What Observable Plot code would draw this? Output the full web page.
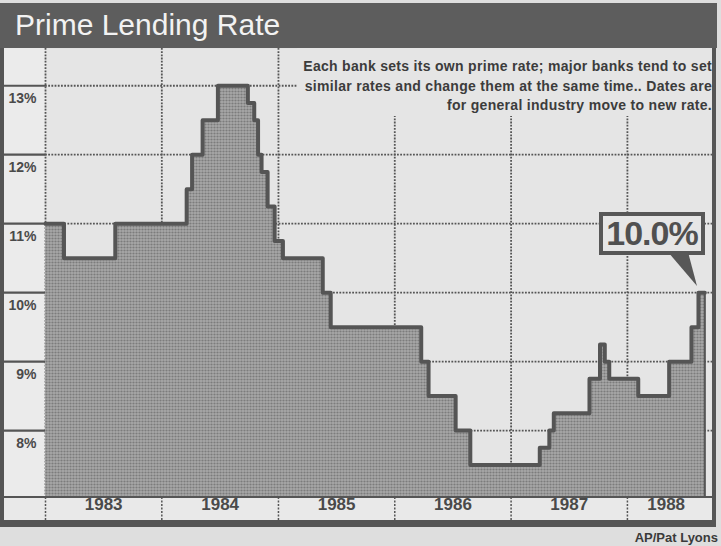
<!DOCTYPE html>
<html>
<head>
<meta charset="utf-8">
<script src="https://cdn.jsdelivr.net/npm/d3@7"></script>
<script src="https://cdn.jsdelivr.net/npm/@observablehq/plot@0.6"></script>
<style>
  html, body { margin: 0; padding: 0; background: #dedede; }
  #wrap { position: relative; width: 721px; height: 546px; overflow: hidden; background: #dedede; font-family: "Liberation Sans", Arial, sans-serif; }
  .abs { position: absolute; }
  #chart { position: absolute; left: 0; top: 0; }
  #title { left: 0; top: 3px; width: 717px; height: 45px; background: #5d5d5d; color: #f2f2f2; font-size: 30px; line-height: 44px; padding-left: 15px; box-sizing: border-box; }
  #note { right: 9px; top: 48px; padding: 9px 0 0 6px; background: #e5e5e5; color: #3c3c3c; font-weight: bold; font-size: 14px; letter-spacing: 0.3px; line-height: 19.5px; text-align: right; white-space: pre; }
  #callout { left: 599px; top: 212px; width: 106px; height: 43px; box-sizing: border-box; border: 4px solid #575757; background: #e6e6e6; color: #505050; font-weight: bold; font-size: 34px; letter-spacing: -1px; line-height: 35px; text-align: center; }
  #credit { right: 3px; top: 530px; color: #3a3a3a; font-weight: bold; font-size: 13px; }
</style>
</head>
<body>
<div id="wrap">
  <svg class="abs" style="left:0;top:0" width="0" height="0">
    <defs>
      <pattern id="halftone" width="3" height="3" patternUnits="userSpaceOnUse">
        <rect width="3" height="3" fill="#a8a8a8"/>
        <circle cx="1.5" cy="1.5" r="1.1" fill="#7c7c7c"/>
      </pattern>
    </defs>
  </svg>
  <div class="abs" style="left:0;top:48px;width:45px;height:449px;background:#ebebeb"></div>
  <div class="abs" style="left:0;top:497px;width:716px;height:23px;background:#e9e9e9"></div>
  <div id="chart"></div>
  <div class="abs" style="left:0;top:48px;width:4px;height:479px;background:#555"></div>
  <div class="abs" style="left:712px;top:48px;width:4px;height:479px;background:#555"></div>
  <div class="abs" style="left:0;top:496px;width:716px;height:2px;background:#555"></div>
  <div class="abs" style="left:0;top:520px;width:716px;height:7px;background:#555"></div>
  <div id="title" class="abs">Prime Lending Rate</div>
  <div id="note" class="abs"></div>
  <div id="callout" class="abs"></div>
  <svg class="abs" style="left:0;top:0" width="721" height="546"><polygon points="668,252 688,252 697,286" fill="#575757"/></svg>
  <div id="credit" class="abs">AP/Pat Lyons</div>
</div>
<script>
// Dates of general industry moves and the new prime rate (%)
const dates = ["1983-01-01","1983-02-28","1983-08-08","1984-03-19","1984-04-05","1984-05-08","1984-06-25","1984-09-27","1984-10-17","1984-10-29","1984-11-09","1984-11-28","1984-12-20","1985-01-15","1985-05-20","1985-06-14","1986-03-25","1986-04-17","1986-07-11","1986-08-26","1987-04-01","1987-05-01","1987-05-15","1987-09-04","1987-10-07","1987-10-22","1987-11-05","1988-02-04","1988-05-11","1988-07-20","1988-08-11","1988-08-31"];
const rates = [11,10.5,11,11.5,12,12.5,13,12.75,12.5,12,11.75,11.25,10.75,10.5,10,9.5,9,8.5,8,7.5,7.75,8,8.25,8.75,9.25,9,8.75,8.5,9,9.5,10,10];
const yTicks = [8,9,10,11,12,13];
const yearLabels = ["1983","1984","1985","1986","1987","1988"];
const noteText = "Each bank sets its own prime rate; major banks tend to set\nsimilar rates and change them at the same time.. Dates are\nfor general industry move to new rate.";

const data = dates.map((d, i) => ({date: new Date(d + "T00:00:00Z"), rate: rates[i]}));
const last = data[data.length - 1];
const yMin = 7.03, yMax = 13.54;
const xStart = new Date("1983-01-01T00:00:00Z");
const xEnd = new Date("1988-09-24T00:00:00Z");
const yearStarts = yearLabels.map(y => new Date(y + "-01-01T00:00:00Z"));
const labelPos = yearStarts.map((s, i) => {
  const e = i < yearStarts.length - 1 ? yearStarts[i + 1] : last.date;
  return {label: yearLabels[i], date: new Date((+s + +e) / 2)};
});

const dot = {stroke: "#555", strokeWidth: 1.8, strokeDasharray: "1.8,1.4"};
const chart = Plot.plot({
  width: 721, height: 546,
  marginLeft: 45, marginRight: 9, marginTop: 48, marginBottom: 49,
  x: {type: "utc", domain: [xStart, xEnd]},
  y: {domain: [yMin, yMax]},
  style: {background: "transparent", fontFamily: "Liberation Sans, Arial, sans-serif", overflow: "visible"},
  marks: [
    Plot.frame({fill: "#e5e5e5", stroke: null}),
    Plot.ruleY(yTicks, dot),
    Plot.ruleX(yearStarts, dot),
    Plot.areaY(data, {x: "date", y1: yMin, y2: "rate", curve: "step-after", fill: "url(#halftone)"}),
    Plot.line(data, {x: "date", y: "rate", curve: "step-after", stroke: "#555", strokeWidth: 4}),
    Plot.ruleX([last], {x: "date", y1: yMin, y2: "rate", stroke: "#555", strokeWidth: 2}),
    Plot.axisY(yTicks, {anchor: "left", tickSize: 42, tickFormat: () => "", stroke: "#555", strokeWidth: 2.2, label: null}),
    Plot.axisY(yTicks, {anchor: "left", tickSize: 0, tickPadding: 9, dy: 13, tickFormat: d => d + "%", fontSize: 14, fontWeight: "bold", fill: "#4a4a4a", label: null}),
    Plot.axisX(yearStarts, {anchor: "bottom", tickSize: 23, tickFormat: () => "", stroke: "#555", strokeWidth: 1.5, strokeDasharray: "2,1.5", label: null}),
    Plot.text(labelPos, {x: "date", text: "label", frameAnchor: "bottom", dy: 12, fontSize: 17, fontWeight: "bold", fill: "#4a4a4a"})
  ]
});
document.getElementById("chart").appendChild(chart);
document.getElementById("note").textContent = noteText;
document.getElementById("callout").textContent = last.rate.toFixed(1) + "%";
</script>
</body>
</html>
